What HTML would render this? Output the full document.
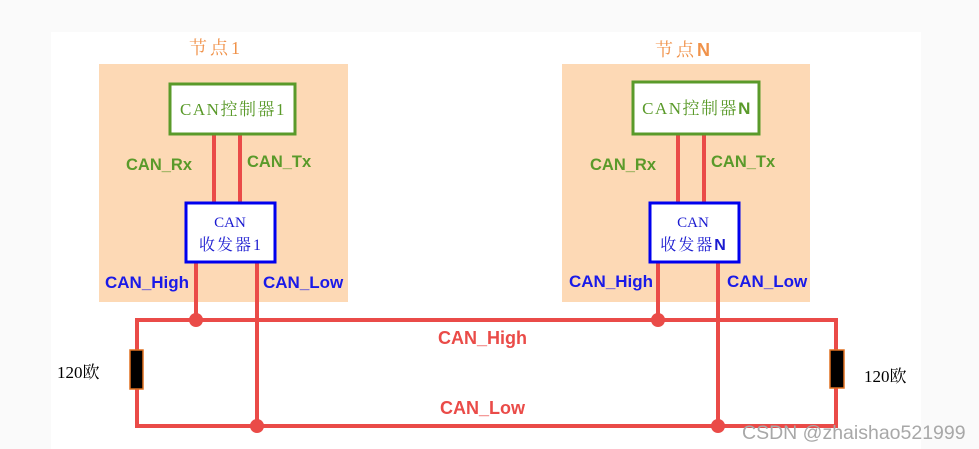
<!DOCTYPE html>
<html><head><meta charset="utf-8"><style>
html,body{margin:0;padding:0;background:#fafafa;}
svg{display:block}
</style></head><body>
<svg width="979" height="449" xmlns="http://www.w3.org/2000/svg" font-family="Liberation Sans, Noto Sans CJK SC, sans-serif">
<rect x="0" y="0" width="979" height="449" fill="#fafafa"/>
<rect x="51" y="32" width="870" height="417" fill="#ffffff"/>
<rect x="99" y="64" width="249" height="238" fill="#fdd9b5"/>
<rect x="562" y="64" width="248" height="238" fill="#fdd9b5"/>
<text x="216" y="54" font-family="Liberation Serif, Noto Serif CJK SC, serif" font-size="18" letter-spacing="3" fill="#f0924a" text-anchor="middle">节点1</text>
<text x="684" y="56" font-family="Liberation Sans, Noto Serif CJK SC, sans-serif" font-size="18" letter-spacing="3" fill="#f0924a" text-anchor="middle">节点<tspan font-weight="bold">N</tspan></text>
<g stroke="#ea4b48" stroke-width="4" fill="none">
<line x1="214" y1="135" x2="214" y2="204"/>
<line x1="240" y1="135" x2="240" y2="204"/>
<line x1="678" y1="135" x2="678" y2="204"/>
<line x1="704" y1="135" x2="704" y2="204"/>
<line x1="196" y1="262" x2="196" y2="320"/>
<line x1="257" y1="262" x2="257" y2="426"/>
<line x1="658" y1="262" x2="658" y2="320"/>
<line x1="718" y1="262" x2="718" y2="426"/>
<path d="M137 350 V320 H836 V350"/>
<path d="M137 389 V426 H836 V388"/>
</g>
<g fill="#ea4b48">
<circle cx="196" cy="320" r="7"/>
<circle cx="658" cy="320" r="7"/>
<circle cx="257" cy="426" r="7"/>
<circle cx="718" cy="426" r="7"/>
</g>
<rect x="130" y="350" width="13" height="39" fill="#000" stroke="#e07020" stroke-width="1.5"/>
<rect x="830" y="350" width="14" height="38" fill="#000" stroke="#e07020" stroke-width="1.5"/>
<text x="57" y="378" font-family="Liberation Serif, Noto Serif CJK SC, serif" font-size="17" fill="#000">120欧</text>
<text x="864" y="382" font-family="Liberation Serif, Noto Serif CJK SC, serif" font-size="17" fill="#000">120欧</text>
<rect x="170" y="84" width="125" height="50" fill="#fff" stroke="#5a9a2a" stroke-width="3"/>
<text x="233" y="115" font-family="Liberation Serif, Noto Serif CJK SC, serif" font-size="17" letter-spacing="1.5" fill="#5a9a2a" text-anchor="middle">CAN控制器1</text>
<rect x="633" y="82" width="126" height="52" fill="#fff" stroke="#5a9a2a" stroke-width="3"/>
<text x="697" y="114" font-family="Liberation Serif, Noto Serif CJK SC, serif" font-size="17" letter-spacing="1.5" fill="#5a9a2a" text-anchor="middle">CAN控制器<tspan font-family="Liberation Sans, sans-serif" font-weight="bold">N</tspan></text>
<g font-size="16.5" font-weight="bold" fill="#5a9a2a">
<text x="126" y="170">CAN_Rx</text>
<text x="247" y="167">CAN_Tx</text>
<text x="590" y="170">CAN_Rx</text>
<text x="711" y="167">CAN_Tx</text>
</g>
<rect x="186" y="203" width="89" height="59" fill="#fff" stroke="#0000ee" stroke-width="3"/>
<text x="230" y="227" font-family="Liberation Serif, Noto Serif CJK SC, serif" font-size="15" fill="#1a1ad0" text-anchor="middle">CAN</text>
<text x="231" y="250" font-family="Liberation Serif, Noto Serif CJK SC, serif" font-size="16" letter-spacing="2" fill="#1a1ad0" text-anchor="middle">收发器1</text>
<rect x="650" y="203" width="89" height="59" fill="#fff" stroke="#0000ee" stroke-width="3"/>
<text x="693" y="227" font-family="Liberation Serif, Noto Serif CJK SC, serif" font-size="15" fill="#1a1ad0" text-anchor="middle">CAN</text>
<text x="694" y="250" font-family="Liberation Serif, Noto Serif CJK SC, serif" font-size="16" letter-spacing="2" fill="#1a1ad0" text-anchor="middle">收发器<tspan font-family="Liberation Sans, sans-serif" font-weight="bold">N</tspan></text>
<g font-size="17" font-weight="bold" fill="#1a1ae8">
<text x="105" y="288">CAN_High</text>
<text x="263" y="288">CAN_Low</text>
<text x="569" y="287">CAN_High</text>
<text x="727" y="287">CAN_Low</text>
</g>
<g font-size="18" font-weight="bold" fill="#ea4b48">
<text x="438" y="344">CAN_High</text>
<text x="440" y="414">CAN_Low</text>
</g>
<text x="742" y="439" font-size="19.5" fill="#a8a8a8">CSDN @zhaishao521999</text>
</svg>
</body></html>
